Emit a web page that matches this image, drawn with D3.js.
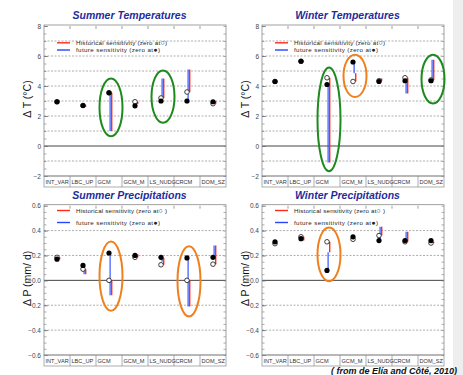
<!DOCTYPE html>
<html>
<head>
<meta charset="utf-8">
<script src="https://cdn.jsdelivr.net/npm/d3@7"></script>
<style>
  body { margin: 0; background: #fff; }
  svg { display: block; font-family: "Liberation Sans", Arial, sans-serif; }
</style>
</head>
<body>
<div id="chart"></div>
<script>
// categories shared by all four panels
const categories = ["INT_VAR", "LBC_UP", "GCM", "GCM_M", "LS_NUDG", "CRCM", "DOM_SZ"];

// summer temperatures (°C)
const summerTempFuture    = [2.95, 2.70, 3.55, 2.68, 3.00, 3.00, 2.95];
const summerTempHist      = [2.95, 2.70, 3.55, 2.95, 3.20, 3.60, 2.82];
const summerTempFutureEnd = [2.95, 2.62, 1.00, 2.90, 4.50, 5.10, 3.00];
const summerTempHistEnd   = [2.95, 2.62, 1.00, 2.80, 4.50, 5.10, 3.00];

// winter temperatures (°C)
const winterTempFuture    = [4.30, 5.65, 4.10, 5.60, 4.30, 4.35, 4.35];
const winterTempHist      = [4.30, 5.65, 4.55, 4.30, 4.35, 4.55, 4.40];
const winterTempFutureEnd = [4.30, 5.65, -1.10, 4.85, 4.50, 3.50, 5.75];
const winterTempHistEnd   = [4.30, 5.65, -1.10, 4.85, 4.50, 3.50, 5.75];

// summer precipitations (mm/d)
const summerPrecFuture    = [0.17, 0.12, 0.22, 0.20, 0.185, 0.18, 0.185];
const summerPrecHist      = [0.185, 0.09, 0.00, 0.185, 0.125, 0.00, 0.13];
const summerPrecFutureEnd = [0.17, 0.05, -0.12, 0.21, 0.15, -0.21, 0.28];
const summerPrecHistEnd   = [0.17, 0.05, -0.12, 0.21, 0.18, -0.21, 0.28];

// winter precipitations (mm/d)
const winterPrecFuture    = [0.31, 0.335, 0.08, 0.35, 0.32, 0.32, 0.32];
const winterPrecHist      = [0.295, 0.35, 0.31, 0.33, 0.36, 0.31, 0.30];
const winterPrecFutureEnd = [0.31, 0.33, 0.225, 0.35, 0.43, 0.39, 0.32];
const winterPrecHistEnd   = [0.295, 0.32, 0.225, 0.33, 0.43, 0.39, 0.31];

// axis ticks
const tempTicks = [8, 6, 4, 2, 0, -2];
const tempTickLabels = ["8", "6", "4", "2", "0", "\u22122"];
const tempGrid = [7, 6, 5, 4, 3, 2, 1, -1];
const precTicks = [0.6, 0.4, 0.2, 0, -0.2, -0.4, -0.6];
const precTickLabels = ["0.6", "0.4", "0.2", "\u22120.0", "\u22120.2", "\u22120.4", "\u22120.6"];
const precGrid = [0.4, 0.2, -0.2, -0.4];

// highlighted categories: [category, low, high, colour]
const summerTempMarks = [["GCM", 0.65, 4.5, "green"], ["LS_NUDG", 1.55, 5.03, "green"]];
const winterTempMarks = [["GCM", -1.68, 5.23, "green"], ["GCM_M", 3.26, 6.09, "orange"], ["DOM_SZ", 2.84, 6.09, "green"]];
const summerPrecMarks = [["GCM", -0.245, 0.313, "orange"], ["CRCM", -0.29, 0.275, "orange"]];
const winterPrecMarks = [["GCM", -0.008, 0.424, "orange"]];

const W = 463, H = 375;
const RED = "#ff2a1a", BLUE = "#2446ff";
const MARK = { green: "#1d8a1d", orange: "#f0801e" };

const svg = d3.select("#chart").append("svg")
  .attr("width", W).attr("height", H)
  .attr("viewBox", [0, 0, W, H]);

svg.append("rect").attr("x", 453).attr("y", 0).attr("width", 10).attr("height", H).attr("fill", "#eeeeee");

function drawPanel(p) {
  const x = d3.scaleBand(categories, [p.left, p.left + 182]);
  const y = d3.scaleLinear(p.domain, [p.bottom, p.top]);
  const cx = c => x(c) + x.bandwidth() / 2;
  const g = svg.append("g");

  // title
  g.append("text")
    .attr("x", p.left + 85.5).attr("y", p.top - 7)
    .attr("text-anchor", "middle")
    .attr("font-size", 10.5).attr("font-weight", "bold").attr("font-style", "italic")
    .attr("fill", "#1f2c9c")
    .text(p.title);

  // y label
  g.append("text")
    .attr("transform", `translate(${p.left - 13},${(p.top + p.bottom) / 2 - 2}) rotate(-90)`)
    .attr("text-anchor", "middle")
    .attr("font-size", 10.5).attr("fill", "#111")
    .text(p.ylabel);

  // grid
  g.append("g").selectAll("line").data(p.grid).join("line")
    .attr("x1", p.left).attr("x2", p.left + 182)
    .attr("y1", d => y(d)).attr("y2", d => y(d))
    .attr("stroke", "#9a9a9a").attr("stroke-width", 0.8).attr("stroke-dasharray", "2,1.5");
  g.append("line")
    .attr("x1", p.left).attr("x2", p.left + 182)
    .attr("y1", y(0)).attr("y2", y(0))
    .attr("stroke", "#444").attr("stroke-width", 1);

  // axes with inward ticks
  const minor = d3.range(p.domain[0], p.domain[1] + 1e-9, p.minorStep);
  g.append("g").attr("transform", `translate(${p.left},0)`)
    .call(d3.axisLeft(y).tickValues(minor).tickSize(-2.5).tickFormat(""))
    .call(a => a.select(".domain").remove())
    .call(a => a.selectAll(".tick line").attr("stroke", "#777").attr("stroke-width", 0.6));
  g.append("g").attr("transform", `translate(${p.left + 182},0)`)
    .call(d3.axisRight(y).tickValues(minor).tickSize(-2.5).tickFormat(""))
    .call(a => a.select(".domain").remove())
    .call(a => a.selectAll(".tick line").attr("stroke", "#777").attr("stroke-width", 0.6));
  g.append("g").attr("transform", `translate(${p.left},0)`)
    .call(d3.axisLeft(y).tickValues(p.ticks).tickSize(-4).tickPadding(3)
      .tickFormat((d, i) => p.tickLabels[i]))
    .call(a => a.select(".domain").remove())
    .call(a => a.selectAll(".tick line").attr("stroke", "#666").attr("stroke-width", 0.7))
    .call(a => a.selectAll(".tick text").attr("font-size", 6.5).attr("fill", "#444")
      .attr("font-family", "Liberation Sans, Arial, sans-serif"));
  g.append("g").attr("transform", `translate(0,${p.top})`)
    .call(d3.axisTop(x).tickValues(categories.slice(1)).tickSize(-3).tickFormat("")
      .offset(0))
    .call(a => a.select(".domain").remove())
    .call(a => a.selectAll(".tick").attr("transform", d => `translate(${x(d)},0)`))
    .call(a => a.selectAll(".tick line").attr("stroke", "#777").attr("stroke-width", 0.7));

  // plot frame
  g.append("rect")
    .attr("x", p.left).attr("y", p.top - 1)
    .attr("width", 182).attr("height", p.bottom - p.top + 1)
    .attr("fill", "none").attr("stroke", "#8a8a8a").attr("stroke-width", 0.8);

  // category label row
  g.append("rect")
    .attr("x", p.left).attr("y", p.bottom)
    .attr("width", 182).attr("height", 11)
    .attr("fill", "none").attr("stroke", "#8a8a8a").attr("stroke-width", 0.7);
  g.append("g").selectAll("line").data(categories.slice(1)).join("line")
    .attr("x1", d => x(d)).attr("x2", d => x(d))
    .attr("y1", p.bottom).attr("y2", p.bottom + 11)
    .attr("stroke", "#8a8a8a").attr("stroke-width", 0.7);
  g.append("g").selectAll("text").data(categories).join("text")
    .attr("x", d => x(d) + 1.5).attr("y", p.bottom + 8)
    .attr("font-size", 5.6).attr("fill", "#333")
    .text(d => d);

  // legend (the circle symbol is set a bit larger, as in the original)
  const ly = p.legendY;
  const swatches = [RED, BLUE];
  const widths = [91, 84];
  swatches.forEach((col, k) => {
    g.append("line").attr("x1", p.left + 13).attr("x2", p.left + 26).attr("y1", ly[k]).attr("y2", ly[k])
      .attr("stroke", col).attr("stroke-width", 1.4);
    const t = g.append("text").attr("x", p.left + 32).attr("y", ly[k] + 2.2)
      .attr("font-size", 6.2).attr("fill", "#222")
      .attr("textLength", widths[k]).attr("lengthAdjust", "spacing");
    t.append("tspan").text(p.legend[k][0]);
    t.append("tspan").attr("font-size", 7).text(p.legend[k][1]);
    t.append("tspan").text(p.legend[k][2]);
  });

  // sensitivity lines: blue (future) left, red (historical) right
  g.append("g").selectAll("line").data(categories).join("line")
    .attr("x1", d => cx(d) + 1.1).attr("x2", d => cx(d) + 1.1)
    .attr("y1", (d, i) => y(p.future[i])).attr("y2", (d, i) => y(p.futureEnd[i]))
    .attr("stroke", BLUE).attr("stroke-width", 1.1);
  g.append("g").selectAll("line").data(categories).join("line")
    .attr("x1", d => cx(d) + 2.7).attr("x2", d => cx(d) + 2.7)
    .attr("y1", (d, i) => y(p.hist[i])).attr("y2", (d, i) => y(p.histEnd[i]))
    .attr("stroke", RED).attr("stroke-width", 1.4);

  // historical (open) and future (filled) points
  g.append("g").selectAll("circle").data(categories).join("circle")
    .attr("cx", d => cx(d)).attr("cy", (d, i) => y(p.hist[i]))
    .attr("r", 2.3).attr("fill", "#fff").attr("stroke", "#111").attr("stroke-width", 0.8);
  g.append("g").selectAll("circle").data(categories).join("circle")
    .attr("cx", d => cx(d)).attr("cy", (d, i) => y(p.future[i]))
    .attr("r", 2.6).attr("fill", "#000");

  // highlight ellipses
  g.append("g").selectAll("ellipse").data(p.marks).join("ellipse")
    .attr("cx", d => cx(d[0]) + 2)
    .attr("cy", d => (y(d[1]) + y(d[2])) / 2)
    .attr("rx", 11.5)
    .attr("ry", d => Math.abs(y(d[1]) - y(d[2])) / 2)
    .attr("fill", "none").attr("stroke", d => MARK[d[3]]).attr("stroke-width", 2);
}

const tempLegend = [["Historical sensitivity (zero at", "\u25CB", ")"], ["future  sensitivity (zero at", "\u25CF", ")"]];
const precLegend = [["Historical sensitivity (zero at", "\u25CB", " )"], ["future  sensitivity (zero at", "\u25CF", ")"]];

drawPanel({ title: "Summer Temperatures", ylabel: "\u0394 T (\u00B0C)", left: 44, top: 26, bottom: 176,
  domain: [-2, 8], ticks: tempTicks, tickLabels: tempTickLabels, grid: tempGrid, minorStep: 0.5,
  legend: tempLegend, legendY: [42.8, 50],
  future: summerTempFuture, hist: summerTempHist, futureEnd: summerTempFutureEnd, histEnd: summerTempHistEnd,
  marks: summerTempMarks });

drawPanel({ title: "Winter Temperatures", ylabel: "\u0394 T (\u00B0C)", left: 262, top: 26, bottom: 176,
  domain: [-2, 8], ticks: tempTicks, tickLabels: tempTickLabels, grid: tempGrid, minorStep: 0.5,
  legend: tempLegend, legendY: [42.8, 50],
  future: winterTempFuture, hist: winterTempHist, futureEnd: winterTempFutureEnd, histEnd: winterTempHistEnd,
  marks: winterTempMarks });

drawPanel({ title: "Summer Precipitations", ylabel: "\u0394 P (mm/ d)", left: 44, top: 205.7, bottom: 355,
  domain: [-0.6, 0.6], ticks: precTicks, tickLabels: precTickLabels, grid: precGrid, minorStep: 0.05,
  legend: precLegend, legendY: [210.5, 222.5],
  future: summerPrecFuture, hist: summerPrecHist, futureEnd: summerPrecFutureEnd, histEnd: summerPrecHistEnd,
  marks: summerPrecMarks });

drawPanel({ title: "Winter Precipitations", ylabel: "\u0394 P (mm/ d)", left: 262, top: 205.7, bottom: 355,
  domain: [-0.6, 0.6], ticks: precTicks, tickLabels: precTickLabels, grid: precGrid, minorStep: 0.05,
  legend: precLegend, legendY: [210.5, 222.5],
  future: winterPrecFuture, hist: winterPrecHist, futureEnd: winterPrecFutureEnd, histEnd: winterPrecHistEnd,
  marks: winterPrecMarks });

// source note at the bottom edge
svg.append("text")
  .attr("x", 331).attr("y", 374)
  .attr("font-size", 9).attr("font-weight", "bold").attr("font-style", "italic")
  .attr("fill", "#111")
  .text("( from de El\u00EDa and C\u00F4t\u00E9, 2010)");
</script>
</body>
</html>
